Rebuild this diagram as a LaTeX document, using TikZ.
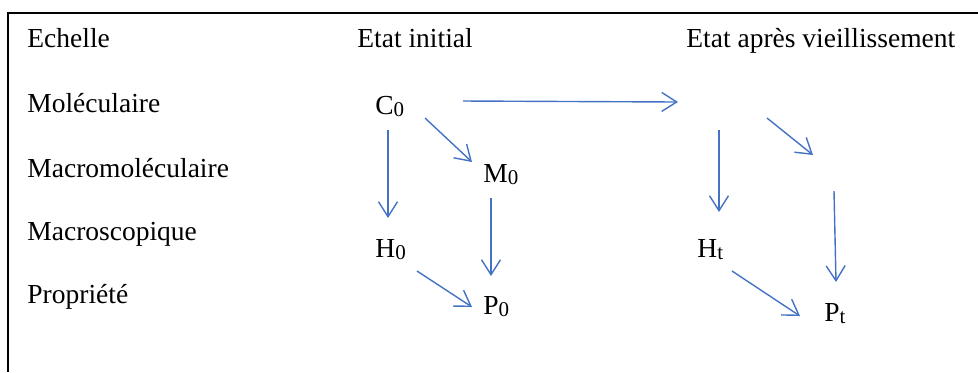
\documentclass[tikz,border=0pt]{standalone}
\usepackage{fontspec}
\setmainfont{Liberation Serif}
\usetikzlibrary{arrows.meta}
\definecolor{arrowblue}{RGB}{68,114,196}
\newcommand{\idx}[1]{\raisebox{-1.3pt}{\fontsize{10.5}{10}\selectfont #1}}

\begin{document}
\begin{tikzpicture}[
    x=0.5pt, y=-0.5pt,
    txt/.style={anchor=base west, inner sep=0pt, font=\fontsize{13.75}{16}\selectfont},
    arrow/.style={-{Straight Barb[length=7.5pt, width=9.5pt]}, line width=0.7pt, draw=arrowblue},
    boxline/.style={line width=1pt}
]
\useasboundingbox (0,0) rectangle (978,372);

% Frame
\draw [boxline] (978,13) -| (8,372);

% Scales
\node (echelle) at (27,47) [txt] {Echelle};
\node (molec) at (27,112) [txt] {Moléculaire};
\node (macromol) at (27,177) [txt] {Macromoléculaire};
\node (macrosc) at (27,240) [txt] {Macroscopique};
\node (propr) at (27,303) [txt] {Propriété};

% Column headers
\node (init) at (357,47) [txt] {Etat initial};
\node (aged) at (686,47) [txt] {Etat après vieillissement};

% Initial state
\node (c0) at (375,114) [txt] {C\idx{0}};
\node (m0) at (483,182) [txt] {M\idx{0}};
\node (h0) at (375,257) [txt] {H\idx{0}};
\node (p0) at (483,314) [txt] {P\idx{0}};

% Aged state
\coordinate (cT) at (697,114);
\coordinate (mT) at (824,182);
\node (hT) at (697,257) [txt] {H\idx{t}};
\node (pT) at (824,321) [txt] {P\idx{t}};

% Arrows
\draw [arrow] ([shift={(88,-13)}]c0.base west) -- ([shift={(-19,-12)}]cT);
\draw [arrow] ([shift={(50,4)}]c0.base west) -- ([shift={(-11,-20)}]m0.base west);
\draw [arrow] ([shift={(13,16)}]c0.base west) -- ([shift={(13,-39)}]h0.base west);
\draw [arrow] ([shift={(8,16)}]m0.base west) -- ([shift={(8,-38)}]p0.base west);
\draw [arrow] ([shift={(42,14)}]h0.base west) -- ([shift={(-11,-7)}]p0.base west);
\draw [arrow] ([shift={(22,16)}]cT) -- ([shift={(22,-45)}]hT.base west);
\draw [arrow] ([shift={(70,4)}]cT) -- ([shift={(-11,-27)}]mT);
\draw [arrow] ([shift={(10,9)}]mT) -- ([shift={(12,-39)}]pT.base west);
\draw [arrow] ([shift={(35,14)}]hT.base west) -- ([shift={(-24,-5)}]pT.base west);

\end{tikzpicture}
\end{document}
